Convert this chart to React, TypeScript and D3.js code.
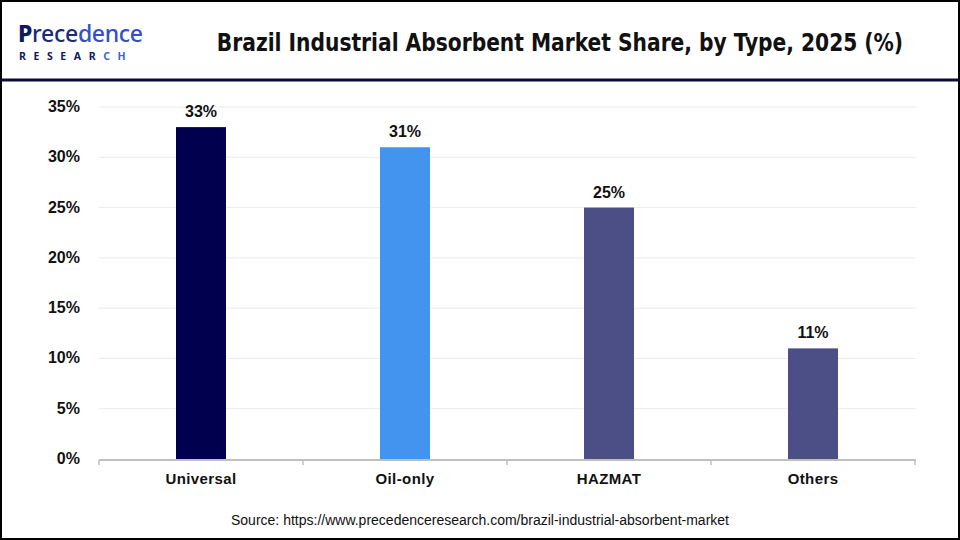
import React from "react";
import * as d3 from "d3";

const categories = ["Universal", "Oil-only", "HAZMAT", "Others"];
const values = [33, 31, 25, 11];
const barColors = ["#00004f", "#4294ef", "#4b4f86", "#4b4f86"];
const yTicks = [0, 5, 10, 15, 20, 25, 30, 35];
const title = "Brazil Industrial Absorbent Market Share, by Type, 2025 (%)";
const source = "Source: https://www.precedenceresearch.com/brazil-industrial-absorbent-market";

export default function App() {
  const W = 960, H = 540;
  const x = d3.scaleBand<string>().domain(categories).range([99, 915]).paddingInner(0).paddingOuter(0);
  const y = d3.scaleLinear().domain([0, 35]).range([459, 107]);
  const barW = 50;
  const font = "Arial, 'Liberation Sans', sans-serif";
  return (
    <svg width={W} height={H} style={{ position: "absolute", left: 0, top: 0, background: "#fff" }} fontFamily={font}>
      <rect x={1} y={1} width={W - 2} height={H - 2} fill="#fff" stroke="#000" strokeWidth={2} />
      <line x1={0} x2={W} y1={80} y2={80} stroke="#0a0a3c" strokeWidth={3} />
      {/* logo */}
      <g>
        <text x={18} y={42} fontSize={23} fontFamily="'Noto Sans', sans-serif" fontWeight={500} fill="#1a2a7a" letterSpacing={-0.3}>
          <tspan fill="#101a5c" fontWeight={800}>P</tspan>
          <tspan>rece</tspan>
          <tspan fill="#3250c8">dence</tspan>
        </text>
        <text x={19} y={60} fontSize={10.5} fontFamily="'Noto Sans', sans-serif" fontWeight={700} fill="#101a5c" letterSpacing={7.6}>
          RESEAR<tspan fill="#3a64d8">CH</tspan>
        </text>
      </g>
      <text x={560} y={51} textAnchor="middle" fontSize={25} fontWeight={700} fontFamily="'DejaVu Sans Condensed', 'DejaVu Sans', sans-serif" fill="#111" transform="translate(560,0) scale(0.9,1) translate(-560,0)">
        {title}
      </text>
      {yTicks.filter(t => t > 0).map(t => (
        <line key={"g" + t} x1={99} x2={916} y1={y(t)} y2={y(t)} stroke="#ebebeb" strokeWidth={1} />
      ))}
      {yTicks.map(t => (
        <text key={"t" + t} x={80} y={y(t) + 5} textAnchor="end" fontSize={16} fontWeight={700} fill="#111">
          {t}%
        </text>
      ))}
      {categories.map((c, i) => {
        const cx = (x(c) as number) + x.bandwidth() / 2;
        return (
          <g key={c}>
            <rect x={cx - barW / 2} y={y(values[i])} width={barW} height={y(0) - y(values[i])} fill={barColors[i]} />
            <text x={cx} y={y(values[i]) - 10} textAnchor="middle" fontSize={16} fontWeight={700} fill="#111">
              {values[i]}%
            </text>
            <text x={cx} y={484} textAnchor="middle" fontSize={15} fontWeight={700} fill="#111" letterSpacing={0.4}>
              {c}
            </text>
          </g>
        );
      })}
      <line x1={99} x2={916} y1={460} y2={460} stroke="#bfbfbf" strokeWidth={2} />
      {[0, 1, 2, 3, 4].map(i => {
        const xx = 99 + i * x.bandwidth();
        return <line key={"k" + i} x1={xx} x2={xx} y1={460} y2={465} stroke="#bfbfbf" strokeWidth={1.5} />;
      })}
      <text x={480} y={525} textAnchor="middle" fontSize={14} fill="#111">
        {source}
      </text>
    </svg>
  );
}
